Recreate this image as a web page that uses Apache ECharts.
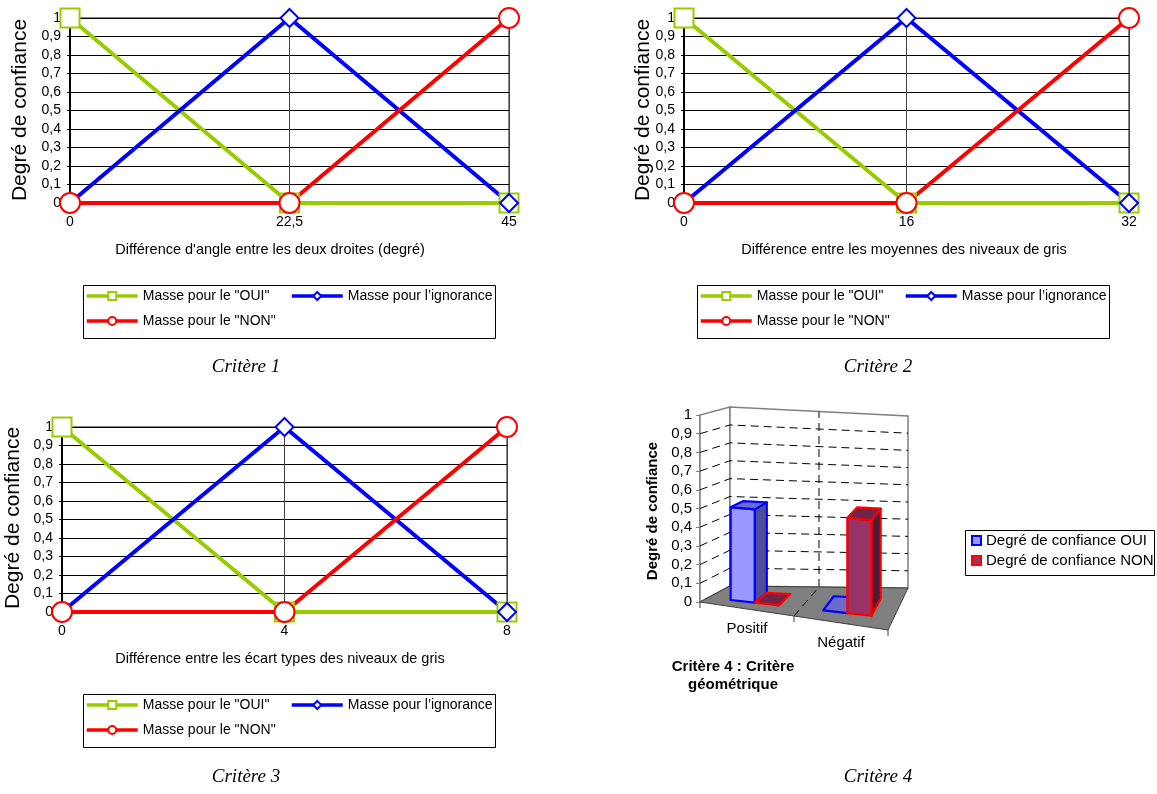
<!DOCTYPE html>
<html>
<head>
<meta charset="utf-8">
<script src="https://cdn.jsdelivr.net/npm/echarts@6/dist/echarts.min.js"></script>
<style>
  html, body { margin: 0; padding: 0; background: #fff; }
  #c { width: 1157px; height: 794px; }
</style>
</head>
<body>
<div id="c"></div>
<script>
// Breakpoints of the three membership functions (criteria 1 to 3)
const xCrit1 = [0, 22.5, 45];
const xCrit2 = [0, 16, 32];
const xCrit3 = [0, 4, 8];
// Masses at each breakpoint
const masseOui = [1, 0, 0];
const masseIgnorance = [0, 1, 0];
const masseNon = [0, 0, 1];
// Criterion 4: geometric criterion
const cats4 = ['Positif', 'Négatif'];
const confOui = [0.5, 0];
const confNon = [0, 0.5];
// Confidence axis ticks
const confTicks = [0, 0.1, 0.2, 0.3, 0.4, 0.5, 0.6, 0.7, 0.8, 0.9, 1];

const NAME_OUI = 'Masse pour le "OUI"';
const NAME_IGN = 'Masse pour l\u2019ignorance';
const NAME_NON = 'Masse pour le "NON"';
const NAME_C_OUI = 'Degré de confiance OUI';
const NAME_C_NON = 'Degré de confiance NON';

const FONT = 'Liberation Sans, Arial, sans-serif';
const GREEN = '#99cc00', BLUE = '#0000ff', RED = '#ff0000';
const comma = v => String(v).replace('.', ',');

const grids = [], xAxes = [], yAxes = [], series = [], legends = [], graphics = [];

function lineChart(xs, pos, legendPos) {
  const gi = grids.length;
  grids.push({ left: pos.left, top: pos.top, width: pos.width, height: pos.height,
    show: true, borderColor: '#1a1010', borderWidth: 1 });
  xAxes.push({ type: 'value', gridIndex: gi, min: 0, max: xs[2], interval: xs[1],
    axisLine: { show: true, lineStyle: { color: '#000', width: 1 } },
    axisTick: { show: false },
    axisLabel: { fontSize: 14, color: '#000', fontFamily: FONT, margin: 12, formatter: comma },
    splitLine: { show: true, lineStyle: { color: '#404040', width: 1 } } });
  yAxes.push({ type: 'value', gridIndex: gi, min: 0, max: 1, interval: 0.1,
    axisLine: { show: true, lineStyle: { color: '#000', width: 2 } },
    axisTick: { show: true, length: 3, lineStyle: { color: '#000' } },
    axisLabel: { fontSize: 14, color: '#000', fontFamily: FONT, margin: 9, formatter: comma },
    splitLine: { show: true, lineStyle: { color: '#000', width: 1 } } });
  const mk = (name, vals, symbol, size, color) => ({
    type: 'line', name, xAxisIndex: gi, yAxisIndex: gi, clip: false,
    data: xs.map((x, i) => [x, vals[i]]),
    symbol, symbolSize: size, showAllSymbol: true, animation: false,
    lineStyle: { color, width: 4 },
    itemStyle: { color: '#fff', borderColor: color, borderWidth: 2 },
    emphasis: { disabled: true }
  });
  series.push(mk(NAME_OUI, masseOui, 'rect', 19, GREEN));
  series.push(mk(NAME_IGN, masseIgnorance, 'diamond', 18, BLUE));
  series.push(mk(NAME_NON, masseNon, 'circle', 20, RED));

  // legend frame and entries
  const L = legendPos;
  graphics.push({ type: 'rect', shape: { x: L.x + 0.5, y: L.y + 0.5, width: 412, height: 53 },
    style: { fill: 'none', stroke: '#000', lineWidth: 1 } });
  const leg = (name, dx, dy) => legends.push({
    data: [name], left: L.x + dx, top: L.y + dy, padding: 0,
    itemWidth: 51, itemHeight: 10, selectedMode: false,
    lineStyle: { width: 3.5 },
    textStyle: { fontSize: 14, color: '#000', fontFamily: FONT }
  });
  leg(NAME_OUI, 2, 4);
  leg(NAME_IGN, 207, 4);
  leg(NAME_NON, 2, 29);
}

lineChart(xCrit1, { left: 70, top: 18, width: 439, height: 185 }, { x: 83, y: 285 });
lineChart(xCrit2, { left: 684, top: 18, width: 445, height: 185 }, { x: 697, y: 285 });
lineChart(xCrit3, { left: 62, top: 427, width: 445, height: 185 }, { x: 83, y: 694 });

// Axis titles and captions
const txt = (text, x, y, font, rot) => graphics.push({
  type: 'text', x, y, rotation: rot || 0,
  style: { text, font, fill: '#000', align: 'center', verticalAlign: 'middle' }
});
const yTitleFont = '21px ' + FONT;
txt('Degré de confiance', 20, 110, yTitleFont, Math.PI / 2);
txt('Degré de confiance', 643, 110, yTitleFont, Math.PI / 2);
txt('Degré de confiance', 13, 518, yTitleFont, Math.PI / 2);
txt('Différence d\'angle entre les deux droites (degré)', 270, 250, '14.5px ' + FONT);
txt('Différence entre les moyennes des niveaux de gris', 904, 250, '14.5px ' + FONT);
txt('Différence entre les écart types des niveaux de gris', 280, 659, '14.5px ' + FONT);
const capFont = 'italic 19px Liberation Serif, Times New Roman, serif';
txt('Critère 1', 246, 367, capFont);
txt('Critère 2', 878, 367, capFont);
txt('Critère 3', 246, 777, capFont);
txt('Critère 4', 878, 777, capFont);

// ---- Criterion 4: pseudo-3D column chart ----
const g4 = grids.length;
grids.push({ left: 700, top: 415, width: 188, height: 187, show: false });
xAxes.push({ type: 'category', gridIndex: g4, data: cats4, show: false });
yAxes.push({ type: 'value', gridIndex: g4, min: 0, max: 1, interval: 0.1,
  axisLine: { show: true, lineStyle: { color: '#808080', width: 1.5 } },
  axisTick: { show: true, length: 4, lineStyle: { color: '#808080' } },
  axisLabel: { fontSize: 15, color: '#000', fontFamily: FONT, margin: 8, formatter: comma },
  splitLine: { show: false } });

// oblique projection of the box: u across categories, w into depth, px = height on front axis
function projector(cs) {
  const gx = cs.x, gw = cs.width, base = cs.y + cs.height;
  const X = [gx, gx + gw, gx + 30, gx + gw + 20];
  const Y = [base, base + 28, base - 16, base - 14];
  const K = [1, 1.07, 0.957, 0.92];
  const bl = (a, u, w) => (1 - u) * (1 - w) * a[0] + u * (1 - w) * a[1] + (1 - u) * w * a[2] + u * w * a[3];
  return (u, w, px) => [bl(X, u, w), bl(Y, u, w) - px * bl(K, u, w)];
}

series.push({
  type: 'custom', name: 'cadre', xAxisIndex: g4, yAxisIndex: g4, silent: true, z: 1,
  data: [[0, 0]], animation: false,
  renderItem(params, api) {
    const cs = params.coordSys;
    const P = projector(cs);
    const base = cs.y + cs.height;
    const hv = v => base - api.coord([0, v])[1];
    const top = hv(1);
    const ch = [];
    const poly = (pts, style) => ch.push({ type: 'polygon', shape: { points: pts }, style });
    const line = (a, b, style) => ch.push({ type: 'line', shape: { x1: a[0], y1: a[1], x2: b[0], y2: b[1] }, style });
    poly([P(0, 0, 0), P(0, 1, 0), P(0, 1, top), P(0, 0, top)], { fill: '#fff', stroke: '#808080', lineWidth: 1.5 });
    poly([P(0, 1, 0), P(1, 1, 0), P(1, 1, top), P(0, 1, top)], { fill: '#fff', stroke: '#808080', lineWidth: 1.5 });
    const dash = { stroke: '#000', lineWidth: 1, lineDash: [8, 5], fill: null };
    confTicks.forEach(v => {
      if (v <= 0 || v >= 1) return;
      const h = hv(v);
      ch.push({ type: 'polyline', shape: { points: [P(0, 0, h), P(0, 1, h), P(1, 1, h)] }, style: dash });
    });
    line(P(0.5, 1, 0), P(0.5, 1, top), dash);
    poly([P(0, 0, 0), P(1, 0, 0), P(1, 1, 0), P(0, 1, 0)], { fill: '#808080', stroke: '#404040', lineWidth: 1 });
    line(P(0.5, 0, 0), P(0.5, 1, 0), dash);
    [0, 0.5, 1].forEach(u => {
      const p = P(u, 0, 0);
      line(p, [p[0], p[1] + 6], { stroke: '#404040', lineWidth: 1 });
    });
    cats4.forEach((c, i) => {
      const u = (api.coord([i, 0])[0] - cs.x) / cs.width;
      const p = P(u, 0, 0);
      ch.push({ type: 'text', x: p[0], y: p[1] + 20,
        style: { text: c, fill: '#000', font: '15px ' + FONT, align: 'center', verticalAlign: 'middle' } });
    });
    return { type: 'group', children: ch };
  }
});

function bars3d(name, vals, slot, colors) {
  series.push({
    type: 'custom', name, xAxisIndex: g4, yAxisIndex: g4, z: 2, animation: false,
    data: vals.map((v, i) => [i, v]),
    encode: { x: 0, y: 1 },
    renderItem(params, api) {
      const cs = params.coordSys;
      const P = projector(cs);
      const base = cs.y + cs.height;
      const i = api.value(0), v = api.value(1);
      const h = base - api.coord([i, v])[1];
      const cx = api.coord([i, 0])[0];
      const bw = api.size([1, 0])[0] * 0.26;
      const x0 = cx - bw + slot * bw;
      const u0 = (x0 - cs.x) / cs.width, u1 = (x0 + bw - cs.x) / cs.width;
      const w0 = 0.28, w1 = 0.72;
      const st = fill => ({ fill, stroke: colors.stroke, lineWidth: 2.2, lineJoin: 'round' });
      const ch = [];
      if (h > 0.5) {
        ch.push({ type: 'polygon', shape: { points: [P(u1, w0, 0), P(u1, w1, 0), P(u1, w1, h), P(u1, w0, h)] }, style: st(colors.side) });
        ch.push({ type: 'polygon', shape: { points: [P(u0, w0, 0), P(u1, w0, 0), P(u1, w0, h), P(u0, w0, h)] }, style: st(colors.front) });
      }
      ch.push({ type: 'polygon', shape: { points: [P(u0, w0, h), P(u1, w0, h), P(u1, w1, h), P(u0, w1, h)] }, style: st(colors.top) });
      return { type: 'group', children: ch };
    }
  });
}
bars3d(NAME_C_OUI, confOui, 0, { front: '#9999ff', side: '#4d4d99', top: '#6b6bcc', stroke: BLUE });
bars3d(NAME_C_NON, confNon, 1, { front: '#993366', side: '#4d1a33', top: '#70244a', stroke: RED });

legends.push({
  orient: 'vertical', left: 971, top: 533, padding: 0, itemGap: 5,
  itemWidth: 9, itemHeight: 9, selectedMode: false,
  textStyle: { fontSize: 15, color: '#000', fontFamily: FONT },
  data: [
    { name: NAME_C_OUI, icon: 'rect', itemStyle: { color: '#9999ff', borderColor: BLUE, borderWidth: 2 } },
    { name: NAME_C_NON, icon: 'rect', itemStyle: { color: '#993366', borderColor: RED, borderWidth: 2 } }
  ]
});
graphics.push({ type: 'rect', shape: { x: 965.5, y: 530.5, width: 189, height: 45 },
  style: { fill: 'none', stroke: '#000', lineWidth: 1 } });
txt('Degré de confiance', 653, 511, 'bold 15px ' + FONT, Math.PI / 2);
txt('Critère 4 : Critère', 733, 667, 'bold 15px ' + FONT);
txt('géométrique', 733, 685, 'bold 15px ' + FONT);

const chart = echarts.init(document.getElementById('c'), null, { renderer: 'canvas' });
chart.setOption({
  animation: false,
  backgroundColor: '#fff',
  textStyle: { fontFamily: FONT },
  grid: grids, xAxis: xAxes, yAxis: yAxes,
  legend: legends, series, graphic: graphics
});
</script>
</body>
</html>
